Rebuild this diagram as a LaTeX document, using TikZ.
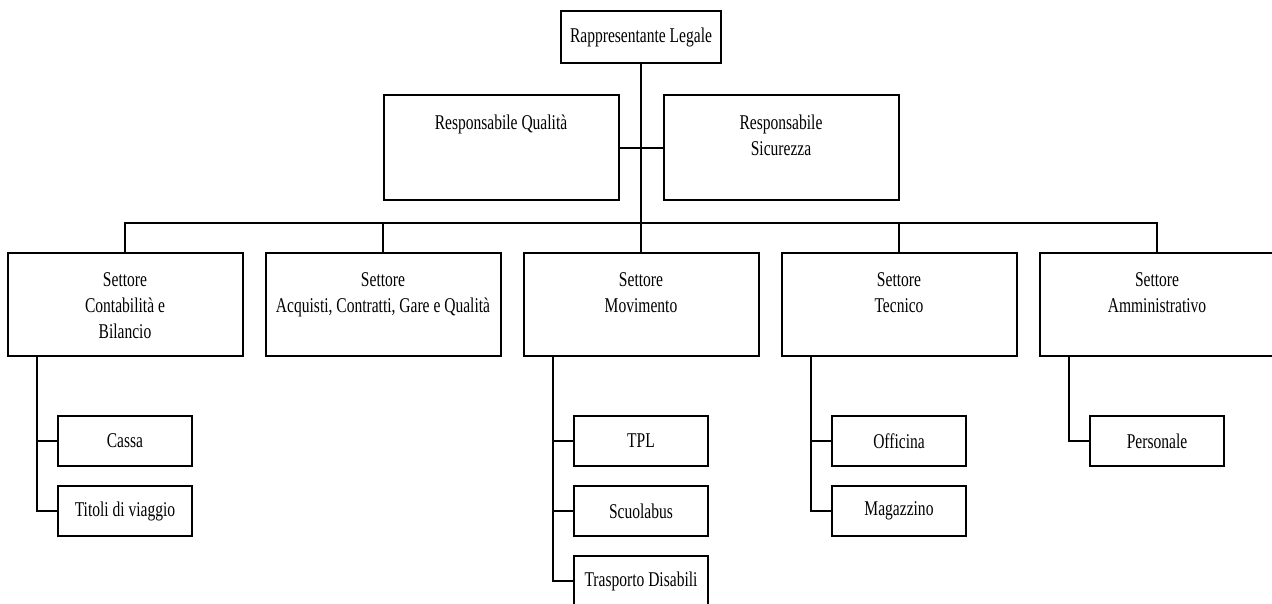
\documentclass[tikz,border=0pt]{standalone}
\usepackage{fontspec}
\setmainfont{Liberation Serif}[FakeStretch=0.74]
\usetikzlibrary{shapes}
\tikzset{%
  % Specifications for style of nodes:
            base/.style = {rectangle, draw=black, line width=2pt,
                           inner sep=0pt, align=flush center},
            headbox/.style = {base, minimum width=160pt, minimum height=52pt},
            staffbox/.style = {base, text width=235pt,
                           text height=34pt, text depth=71pt},
            sectorbox/.style = {base, text width=235pt,
                           text height=33pt, text depth=70pt},
            unitbox/.style = {base, minimum width=134pt, minimum height=50pt},
            link/.style = {draw=black, line width=2pt}
}

\begin{document}
\begin{tikzpicture}[x=1pt, y=1pt, node distance=258pt,
    every node/.style={font=\fontsize{21pt}{26pt}\selectfont}]
  \useasboundingbox (0,-603) rectangle (1272,0);
  % Specification of nodes (position, etc.)
  \node (movimento)    [sectorbox] at (641,-304.5) {Settore\\Movimento};
  \node (acquisti)     [sectorbox, left of = movimento]{Settore\\Acquisti, Contratti, Gare e Qualità};
  \node (contabilita)  [sectorbox, left of = acquisti]{Settore\\Contabilità e\\Bilancio};
  \node (tecnico)      [sectorbox, right of = movimento]{Settore\\Tecnico};
  \node (amministr)    [sectorbox, right of = tecnico]{Settore\\Amministrativo};
  \node (legale)       [headbox] at (641,-37) {Rappresentante Legale};
  \node (qualita)      [staffbox, node distance=140pt, left of = legale, yshift=-110.5pt]{Responsabile Qualità};
  \node (sicurezza)    [staffbox, node distance=140pt, right of = legale, yshift=-110.5pt]{Responsabile\\Sicurezza};
  \node (cassa)        [unitbox, node distance=136.5pt, below of = contabilita]{Cassa};
  \node (titoli)       [unitbox, node distance=70pt, below of = cassa]{Titoli di viaggio};
  \node (tpl)          [unitbox, node distance=136.5pt, below of = movimento]{TPL};
  \node (scuolabus)    [unitbox, node distance=70pt, below of = tpl]{Scuolabus};
  \node (disabili)     [unitbox, node distance=70pt, below of = scuolabus]{Trasporto Disabili};
  \node (officina)     [unitbox, node distance=136.5pt, below of = tecnico]{Officina};
  \node (magazzino)    [unitbox, node distance=70pt, below of = officina]{Magazzino};
  \node (personale)    [unitbox, node distance=136.5pt, below of = amministr]{Personale};
  % Connections
  \coordinate (bus) at ([yshift=29pt]movimento.north);
  \draw[link]          (legale) -- (bus);
  \draw[link]          (qualita) -- (sicurezza);
  \draw[link]          (contabilita.north) |- (bus) -| (amministr.north);
  \draw[link]          (acquisti.north) -- (acquisti.north |- bus);
  \draw[link]          (movimento.north) -- (bus);
  \draw[link]          (tecnico.north) -- (tecnico.north |- bus);
  \draw[link]          ([xshift=30pt]contabilita.south west) |- (cassa.west);
  \draw[link]          ([xshift=30pt]contabilita.south west) |- (titoli.west);
  \draw[link]          ([xshift=30pt]movimento.south west) |- (tpl.west);
  \draw[link]          ([xshift=30pt]movimento.south west) |- (scuolabus.west);
  \draw[link]          ([xshift=30pt]movimento.south west) |- (disabili.west);
  \draw[link]          ([xshift=30pt]tecnico.south west) |- (officina.west);
  \draw[link]          ([xshift=30pt]tecnico.south west) |- (magazzino.west);
  \draw[link]          ([xshift=30pt]amministr.south west) |- (personale.west);
\end{tikzpicture}
\end{document}
